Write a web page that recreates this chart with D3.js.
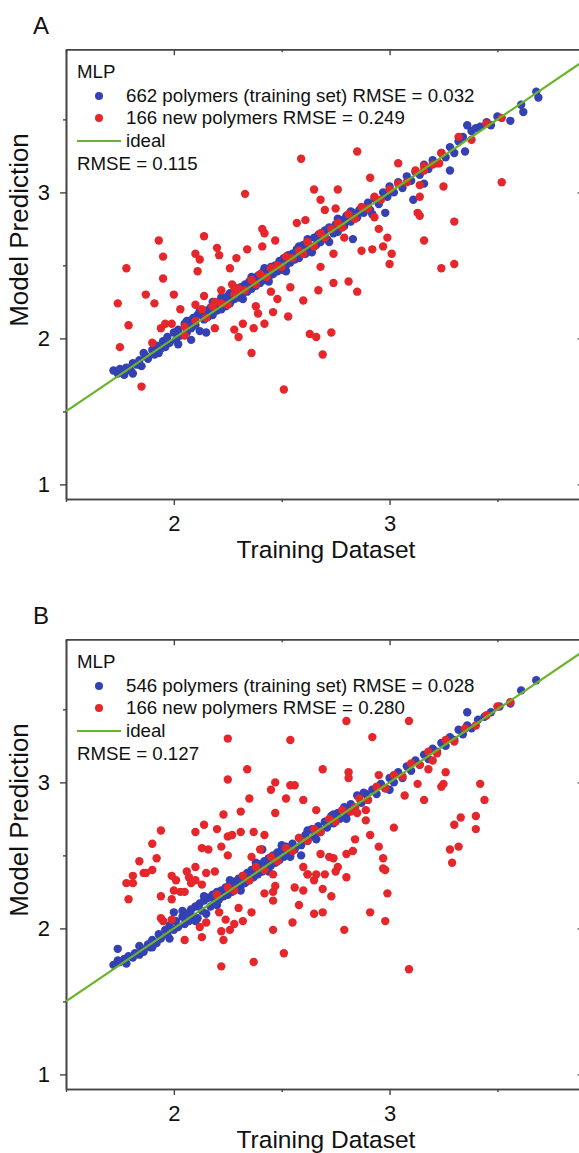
<!DOCTYPE html>
<html>
<head>
<meta charset="utf-8">
<script src="https://cdn.jsdelivr.net/npm/d3@7"></script>
<style>
  html, body { margin: 0; padding: 0; background: #fff; }
  svg text { font-family: "Liberation Sans", Arial, Helvetica, sans-serif; fill: #111; }
</style>
</head>
<body>
<svg id="chart" width="579" height="1153"></svg>
<script>
// ---- axis ticks ----
const xMajorTicks = [2, 3];
const xMinorTicks = [1.5, 2.5, 3.5];
const yMajorTicks = [1, 2, 3];
const yMinorTicks = [1.5, 2.5, 3.5];

// ---- panel A: MLP predictions vs training data ----
const trainA = [
  [1.72,1.78],[1.74,1.76],[1.75,1.79],[1.77,1.75],[1.78,1.80],[1.80,1.78],[1.81,1.76],[1.81,1.83],[1.83,1.82],[1.84,1.85],
  [1.85,1.81],[1.87,1.88],[1.88,1.86],[1.90,1.92],[1.91,1.89],[1.92,1.95],[1.94,1.93],[1.95,1.98],[1.96,1.94],[1.97,2.01],
  [1.98,1.97],[2.00,2.04],[2.01,1.99],[2.02,2.06],[2.03,2.02],[2.05,2.10],[2.06,2.04],[2.07,2.12],[2.08,2.07],[2.08,1.99],
  [2.09,2.14],[2.10,2.09],[2.11,2.16],[2.12,2.05],[2.13,2.18],[2.14,2.13],[2.15,2.04],[2.15,2.19],[2.16,2.15],[2.17,2.21],
  [2.18,2.16],[2.19,2.23],[2.20,2.19],[2.21,2.25],[2.22,2.20],[2.23,2.27],[2.24,2.22],[2.25,2.29],[2.26,2.24],[2.27,2.31],
  [2.28,2.27],[2.29,2.33],[2.30,2.28],[2.31,2.35],[2.32,2.31],[2.33,2.37],[2.34,2.32],[2.35,2.39],[2.36,2.34],[2.37,2.41],
  [2.38,2.36],[2.39,2.43],[2.40,2.38],[2.41,2.45],[2.42,2.40],[2.43,2.47],[2.44,2.42],[2.45,2.49],[2.46,2.44],[2.47,2.50],
  [2.48,2.46],[2.49,2.53],[2.50,2.47],[2.51,2.55],[2.52,2.50],[2.53,2.57],[2.54,2.52],[2.55,2.58],[2.56,2.54],[2.57,2.61],
  [2.58,2.55],[2.60,2.64],[2.61,2.58],[2.62,2.66],[2.63,2.61],[2.65,2.69],[2.66,2.64],[2.67,2.71],[2.68,2.66],[2.70,2.74],
  [2.71,2.68],[2.72,2.76],[2.74,2.72],[2.75,2.78],[2.76,2.73],[2.78,2.81],[2.79,2.77],[2.80,2.84],[2.82,2.80],[2.83,2.68],
  [2.83,2.86],[2.85,2.83],[2.86,2.88],[2.88,2.86],[2.90,2.93],[2.91,2.88],[2.93,2.96],[2.95,2.92],[2.97,3.00],[2.98,2.86],
  [2.99,2.97],[3.00,3.04],[3.02,3.00],[3.04,3.07],[3.06,3.03],[3.08,3.11],[3.10,3.08],[3.11,2.95],[3.12,3.14],[3.14,3.12],
  [3.16,3.06],[3.16,3.19],[3.18,3.16],[3.20,3.22],[3.22,3.20],[3.24,3.27],[3.26,3.24],[3.28,3.15],[3.28,3.31],[3.30,3.27],
  [3.32,3.35],[3.34,3.38],[3.35,3.28],[3.36,3.46],[3.38,3.42],[3.40,3.44],[3.42,3.45],[3.45,3.48],[3.47,3.46],[3.50,3.52],
  [3.56,3.49],[3.61,3.60],[3.62,3.55],[3.68,3.69],[3.69,3.65],
  [2.02,1.96],[2.06,2.12],[2.12,2.19],[2.22,2.28],[2.26,2.31],[2.32,2.27],[2.42,2.48],[2.44,2.39],[2.52,2.46],[2.62,2.68],
  [2.64,2.59],[2.72,2.66],[2.82,2.87],[2.92,2.85],[1.86,1.90],[1.93,1.90],[2.18,2.25],[2.36,2.42],[2.58,2.63],[2.76,2.82]
];
const newA = [
  [2.59,3.23],[2.85,3.28],[3.04,3.20],[3.52,3.07],[2.33,2.99],[2.65,3.02],[2.76,3.02],[2.91,3.10],[3.25,3.04],[3.14,3.05],
  [2.68,2.95],[2.70,2.88],[2.75,2.89],[3.14,2.97],[3.13,2.86],[3.14,2.84],[3.30,2.80],[2.93,2.83],[2.95,2.75],[2.99,2.69],
  [3.16,2.67],[2.97,2.63],[3.01,2.58],[3.00,2.51],[3.24,2.48],[3.30,2.51],[2.61,2.81],[2.57,2.79],[2.41,2.75],[2.42,2.72],
  [2.47,2.67],[2.14,2.70],[1.93,2.67],[1.78,2.48],[1.95,2.56],[1.95,2.41],[2.10,2.58],[2.12,2.54],[2.11,2.46],[2.20,2.62],
  [2.21,2.57],[2.26,2.48],[2.29,2.55],[2.28,2.35],[2.34,2.61],[2.41,2.63],[2.54,2.35],[2.68,2.49],[2.74,2.58],[2.79,2.69],
  [2.87,2.60],[2.92,2.61],[2.74,2.38],[2.81,2.39],[1.74,2.24],[1.87,2.30],[2.00,2.30],[1.91,2.24],[1.79,2.09],[1.75,1.94],
  [1.85,1.67],[2.03,2.20],[1.94,2.07],[1.96,2.10],[1.99,2.10],[1.90,1.97],[2.19,2.07],[2.28,2.06],[2.30,2.01],[2.32,2.10],
  [2.37,2.07],[2.36,1.90],[2.42,2.10],[2.46,2.18],[2.39,2.17],[2.38,2.22],[2.53,2.15],[2.60,2.26],[2.67,2.33],[2.85,2.32],
  [2.63,2.03],[2.66,2.01],[2.73,2.04],[2.69,1.89],[2.51,1.65],[2.45,2.32],[2.48,2.27],[2.14,2.29],[2.10,2.23],[2.05,2.02],
  [2.05,2.08],[2.10,2.12],[2.13,2.20],[2.15,2.14],[2.19,2.25],[2.22,2.33],[2.27,2.37],[2.18,2.22],[2.22,2.24],[2.25,2.23],
  [2.28,2.30],[2.30,2.34],[2.33,2.33],[2.36,2.40],[2.38,2.37],[2.40,2.44],[2.43,2.42],[2.45,2.48],[2.48,2.50],[2.50,2.49],
  [2.52,2.56],[2.55,2.55],[2.58,2.60],[2.60,2.58],[2.62,2.66],[2.65,2.63],[2.68,2.72],[2.70,2.69],[2.73,2.75],[2.76,2.79],
  [2.78,2.76],[2.81,2.85],[2.84,2.82],[2.87,2.90],[2.90,2.89],[2.93,2.97],[2.96,2.95],[3.00,3.02],[3.04,3.06],[3.08,3.07],
  [3.12,3.15],[3.16,3.18],[3.20,3.19],[3.24,3.27],[3.32,3.38],[3.38,3.36],[3.45,3.47],[3.52,3.51],[3.23,3.20],[3.16,3.15]
];

// ---- panel B ----
const trainB = [
  [1.72,1.75],[1.74,1.86],[1.74,1.78],[1.75,1.77],[1.77,1.79],[1.78,1.76],[1.79,1.81],[1.81,1.80],[1.82,1.83],[1.84,1.82],
  [1.85,1.86],[1.86,1.84],[1.88,1.89],[1.89,1.87],[1.90,1.92],[1.92,1.90],[1.93,1.96],[1.94,1.93],[1.96,1.99],[1.97,1.96],
  [1.98,2.02],[2.00,2.11],[2.00,1.99],[2.01,2.05],[2.02,2.01],[2.04,2.08],[2.05,2.03],[2.06,2.10],[2.07,2.05],[2.08,2.13],
  [2.09,2.08],[2.10,2.15],[2.11,2.07],[2.12,2.17],[2.13,2.12],[2.14,2.19],[2.15,2.10],[2.16,2.21],[2.17,2.15],[2.18,2.23],
  [2.19,2.18],[2.20,2.25],[2.21,2.20],[2.22,2.26],[2.23,2.22],[2.24,2.28],[2.25,2.23],[2.26,2.30],[2.27,2.25],[2.28,2.32],
  [2.29,2.27],[2.30,2.34],[2.31,2.29],[2.32,2.36],[2.33,2.31],[2.34,2.38],[2.35,2.33],[2.36,2.40],[2.37,2.35],[2.38,2.42],
  [2.39,2.37],[2.41,2.54],[2.40,2.44],[2.41,2.39],[2.42,2.46],[2.43,2.41],[2.44,2.48],[2.45,2.43],[2.46,2.50],[2.47,2.45],
  [2.48,2.52],[2.49,2.47],[2.50,2.54],[2.51,2.49],[2.52,2.56],[2.54,2.52],[2.55,2.58],[2.56,2.54],[2.58,2.62],[2.59,2.50],
  [2.59,2.57],[2.61,2.64],[2.62,2.60],[2.64,2.68],[2.65,2.63],[2.67,2.70],[2.68,2.66],[2.70,2.73],[2.71,2.69],[2.73,2.77],
  [2.74,2.72],[2.76,2.79],[2.77,2.75],[2.79,2.83],[2.80,2.78],[2.82,2.85],[2.84,2.82],[2.85,2.91],[2.87,2.86],[2.89,2.92],
  [2.90,2.88],[2.92,2.95],[2.94,2.92],[2.96,2.99],[2.98,2.96],[3.00,2.95],[3.00,3.03],[3.02,3.00],[3.04,3.07],[3.06,3.03],
  [3.08,3.11],[3.10,3.08],[3.12,3.15],[3.14,3.12],[3.16,3.19],[3.18,3.16],[3.20,3.23],[3.22,3.21],[3.24,3.27],[3.26,3.25],
  [3.28,3.31],[3.30,3.29],[3.32,3.36],[3.34,3.33],[3.36,3.48],[3.36,3.39],[3.38,3.37],[3.41,3.43],[3.44,3.45],[3.47,3.48],
  [3.51,3.52],[3.56,3.54],[3.61,3.63],[3.68,3.70],
  [1.98,1.93],[2.04,2.12],[2.10,2.05],[2.14,2.22],[2.20,2.16],[2.26,2.33],[2.31,2.26],[2.38,2.45],[2.44,2.39],[2.50,2.57],
  [2.54,2.49],[2.62,2.67],[2.66,2.61],[2.74,2.78],[2.80,2.75],[1.84,1.88],[1.90,1.87],[2.88,2.93]
];
const newB = [
  [2.80,3.42],[3.09,3.42],[2.25,3.30],[2.54,3.29],[2.92,3.31],[2.34,3.09],[2.25,3.02],[2.69,3.09],[2.81,3.07],[2.81,3.03],
  [2.95,3.05],[3.13,2.99],[3.24,2.97],[3.25,2.99],[3.26,3.07],[3.42,2.99],[3.44,2.88],[3.33,2.76],[3.30,2.71],[3.40,2.77],
  [3.40,2.68],[3.28,2.54],[3.32,2.56],[3.29,2.45],[2.47,3.00],[2.45,2.95],[2.54,2.98],[2.56,2.98],[2.35,2.89],[2.52,2.89],
  [2.60,2.88],[2.47,2.79],[2.31,2.80],[2.23,2.78],[2.14,2.71],[2.10,2.66],[2.20,2.68],[2.25,2.63],[2.27,2.64],[2.31,2.66],
  [2.37,2.66],[2.42,2.64],[2.66,2.81],[2.84,2.83],[2.85,2.79],[2.89,2.74],[2.89,2.81],[2.91,2.64],[3.02,2.69],[3.07,2.91],
  [3.16,2.88],[2.95,2.56],[2.97,2.48],[2.97,2.41],[2.84,2.61],[2.83,2.53],[2.80,2.51],[2.74,2.48],[2.76,2.42],[2.68,2.51],
  [2.72,2.49],[2.70,2.37],[2.80,2.35],[2.60,2.42],[2.62,2.37],[2.40,2.54],[2.36,2.49],[2.22,2.56],[2.16,2.54],[2.13,2.55],
  [2.25,2.50],[2.10,2.42],[2.15,2.38],[1.92,2.48],[1.90,2.40],[1.94,2.67],[1.90,2.58],[1.84,2.46],[1.86,2.38],[1.81,2.36],
  [1.99,2.36],[2.06,2.39],[2.07,2.35],[2.19,2.39],[1.78,2.31],[1.81,2.31],[1.79,2.20],[1.87,2.38],[2.01,2.33],[1.94,2.22],
  [1.99,2.20],[2.00,2.26],[2.03,2.25],[2.05,2.25],[2.08,2.31],[2.10,2.33],[2.13,2.30],[1.94,2.07],[1.95,2.05],[1.99,2.06],
  [2.05,1.92],[2.12,2.01],[2.13,1.94],[2.15,2.04],[2.21,2.11],[2.24,2.06],[2.22,1.98],[2.23,1.92],[2.26,1.99],[2.28,2.03],
  [2.30,2.14],[2.32,2.05],[2.36,2.11],[2.22,1.74],[2.37,1.77],[2.51,1.83],[2.46,1.99],[2.42,2.24],[2.46,2.25],[2.47,2.29],
  [2.46,2.19],[2.46,2.37],[2.55,2.04],[2.56,2.28],[2.60,2.26],[2.58,2.16],[2.62,2.37],[2.65,2.33],[2.66,2.37],[2.65,2.10],
  [2.69,2.11],[2.69,2.27],[2.73,2.22],[2.75,2.39],[2.79,1.99],[2.91,2.11],[2.98,2.40],[2.99,2.24],[2.98,2.05],[3.09,1.72],
  [2.20,2.23],[2.25,2.28],[2.28,2.26],[2.32,2.36],[2.35,2.33],[2.38,2.42],[2.42,2.40],[2.45,2.49],[2.48,2.46],[2.52,2.55],
  [2.55,2.53],[2.58,2.62],[2.62,2.60],[2.65,2.68],[2.68,2.66],[2.72,2.75],[2.75,2.73],[2.78,2.81],[2.82,2.80],[2.86,2.89],
  [2.90,2.88],[2.94,2.97],[2.98,2.96],[3.02,3.05],[3.06,3.04],[3.10,3.13],[3.14,3.12],[3.18,3.21],[3.22,3.20],[3.26,3.29],
  [3.30,3.28],[3.35,3.37],[3.40,3.39],[3.45,3.46],[3.50,3.52],[3.56,3.55],[3.20,3.15],[3.18,3.09]
];

// ---- text ----
const panelLetters = ["A", "B"];
const modelName = "MLP";
const trainLabels = ["662 polymers (training set) RMSE = 0.032", "546 polymers (training set) RMSE = 0.028"];
const newLabels = ["166 new polymers RMSE = 0.249", "166 new polymers RMSE = 0.280"];
const idealLabel = "ideal";
const overallLabels = ["RMSE = 0.115", "RMSE = 0.127"];
const xTitle = "Training Dataset";
const yTitle = "Model Prediction";
const idealLine = [1.5, 3.9];

const panels = [
  { train: trainA, fresh: newA },
  { train: trainB, fresh: newB }
];

const BLUE = "#3441b5", RED = "#e5262b", GREEN = "#6ab42a", AXIS = "#444";

const svg = d3.select("#chart");
const x = d3.scaleLinear().domain([1.5, 3.9]).range([66, 583.7]);
const y = d3.scaleLinear().domain([0.9, 3.98]).range([499, 49.3]);

panels.forEach((p, i) => {
  const g = svg.append("g").attr("transform", `translate(0,${i * 590})`);
  const clipId = "clip" + i;
  g.append("clipPath").attr("id", clipId)
    .append("rect").attr("x", x.range()[0]).attr("y", y.range()[1])
    .attr("width", x.range()[1] - x.range()[0]).attr("height", y.range()[0] - y.range()[1]);

  // panel letter
  g.append("text").attr("x", 33).attr("y", 34)
    .style("font-size", "24px").text(panelLetters[i]);

  // axes: major ticks outward on bottom/left, inward on top/right
  const styleAxis = sel => {
    sel.selectAll("path.domain").attr("stroke", AXIS).attr("stroke-width", 1.6);
    sel.selectAll(".tick line").attr("stroke", AXIS).attr("stroke-width", 1.4);
    sel.selectAll(".tick text").style("font-size", "22px")
      .style("font-family", '"Liberation Sans", Arial, sans-serif').attr("fill", "#111");
  };
  const fmt = d3.format("d");
  g.append("g").attr("transform", `translate(0,${y.range()[0]})`)
    .call(d3.axisBottom(x).tickValues(xMajorTicks).tickSize(6).tickSizeOuter(0).tickPadding(10).tickFormat(fmt))
    .call(styleAxis);
  g.append("g").attr("transform", `translate(0,${y.range()[0]})`)
    .call(d3.axisBottom(x).tickValues(xMinorTicks).tickSize(3).tickSizeOuter(0).tickFormat(""))
    .call(styleAxis);
  g.append("g").attr("transform", `translate(0,${y.range()[1]})`)
    .call(d3.axisTop(x).tickValues(xMajorTicks).tickSize(-6).tickSizeOuter(0).tickFormat(""))
    .call(styleAxis);
  g.append("g").attr("transform", `translate(0,${y.range()[1]})`)
    .call(d3.axisTop(x).tickValues(xMinorTicks).tickSize(-3).tickSizeOuter(0).tickFormat(""))
    .call(styleAxis);
  g.append("g").attr("transform", `translate(${x.range()[0]},0)`)
    .call(d3.axisLeft(y).tickValues(yMajorTicks).tickSize(6).tickSizeOuter(0).tickPadding(10).tickFormat(fmt))
    .call(styleAxis);
  g.append("g").attr("transform", `translate(${x.range()[0]},0)`)
    .call(d3.axisLeft(y).tickValues(yMinorTicks).tickSize(3).tickSizeOuter(0).tickFormat(""))
    .call(styleAxis);
  g.append("g").attr("transform", `translate(${x.range()[1]},0)`)
    .call(d3.axisRight(y).tickValues(yMajorTicks).tickSize(-6).tickSizeOuter(0).tickFormat(""))
    .call(styleAxis);

  // axis titles
  g.append("text").attr("x", 326).attr("y", 557.6).attr("text-anchor", "middle")
    .style("font-size", "24.5px").text(xTitle);
  g.append("text").attr("transform", "translate(28,230) rotate(-90)").attr("text-anchor", "middle")
    .style("font-size", "26px").text(yTitle);

  // data
  const plot = g.append("g").attr("clip-path", `url(#${clipId})`);
  plot.append("g").selectAll("circle").data(p.train).join("circle")
    .attr("cx", d => x(d[0])).attr("cy", d => y(d[1])).attr("r", 4.2).attr("fill", BLUE);
  plot.append("g").selectAll("circle").data(p.fresh).join("circle")
    .attr("cx", d => x(d[0])).attr("cy", d => y(d[1])).attr("r", 4.2).attr("fill", RED);
  plot.append("line")
    .attr("x1", x(idealLine[0])).attr("y1", y(idealLine[0]))
    .attr("x2", x(idealLine[1])).attr("y2", y(idealLine[1]))
    .attr("stroke", GREEN).attr("stroke-width", 2.2);

  // legend
  const lg = g.append("g").style("font-size", "18.7px");
  lg.append("text").attr("x", 77).attr("y", 78).text(modelName);
  lg.append("circle").attr("cx", 99).attr("cy", 96).attr("r", 4).attr("fill", BLUE);
  lg.append("text").attr("x", 126).attr("y", 102).text(trainLabels[i]);
  lg.append("circle").attr("cx", 99).attr("cy", 118).attr("r", 4).attr("fill", RED);
  lg.append("text").attr("x", 126).attr("y", 124).text(newLabels[i]);
  lg.append("line").attr("x1", 77).attr("x2", 121).attr("y1", 141).attr("y2", 141)
    .attr("stroke", GREEN).attr("stroke-width", 2.2);
  lg.append("text").attr("x", 126).attr("y", 147).text(idealLabel);
  lg.append("text").attr("x", 77).attr("y", 170).text(overallLabels[i]);
});
</script>
</body>
</html>
